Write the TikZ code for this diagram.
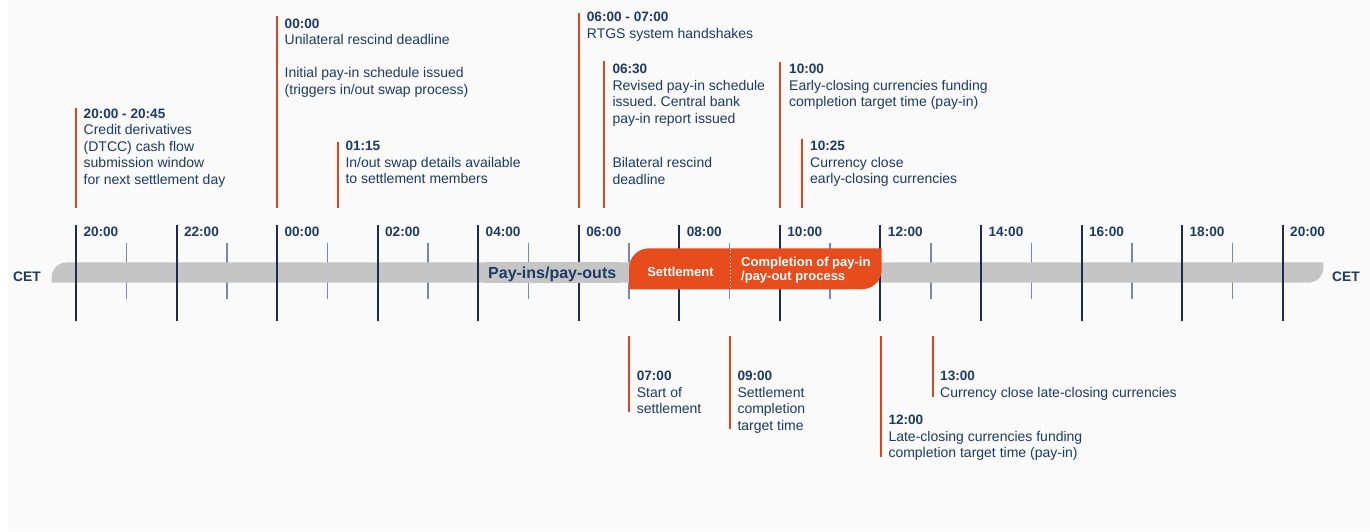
\documentclass[tikz,border=0pt]{standalone}
\usepackage{fontspec}
\setmainfont{Liberation Sans}
\frenchspacing
\definecolor{navytxt}{HTML}{1B3A66}
\definecolor{navytick}{HTML}{1E2B4F}
\definecolor{minortick}{HTML}{7B87AD}
\definecolor{evorange}{HTML}{D9481C}
\definecolor{fillorange}{HTML}{E64C1C}
\definecolor{bargray}{HTML}{C5C5C5}
\definecolor{bgpanel}{HTML}{FAFAFA}
\newcommand{\tm}[1]{{\bfseries\fontsize{13.6}{16.5}\selectfont #1}}
\tikzset{
  evline/.style={draw=evorange, line width=2pt},
  evtext/.style={anchor=north west, inner sep=0pt, align=left, text=navytxt,
    font=\fontsize{14}{16.5}\selectfont},
  majortick/.style={draw=navytick, line width=2pt},
  minortk/.style={draw=minortick, line width=1.5pt},
  hourlbl/.style={anchor=west, inner sep=0pt, text=navytxt,
    font=\bfseries\fontsize{13.6}{16}\selectfont},
  cetlbl/.style={anchor=west, inner sep=0pt, text=navytxt,
    font=\bfseries\fontsize{13.8}{16}\selectfont},
}
\begin{document}
\begin{tikzpicture}[x=1pt,y=-1pt]
\useasboundingbox (0,0) rectangle (1370,531);
\fill[white] (0,0) rectangle (1370,531);
\fill[bgpanel] (8,0) rectangle (1370,531);

% minor ticks (odd hours)
\foreach \k in {0,...,11}
  \draw[minortk] ({76+100.56*\k+50.28},242.7) -- ({76+100.56*\k+50.28},299.3);

% grey time bar
\fill[bargray] (51.7,282.7) -- (51.7,277.3)
  .. controls (51.7,269.02) and (58.42,262.3) .. (66.7,262.3)
  -- (1323.3,262.3) -- (1323.3,267.7)
  .. controls (1323.3,275.98) and (1316.58,282.7) .. (1308.3,282.7) -- cycle;

% major ticks and hour labels
\foreach \k/\lab in {0/20:00,1/22:00,2/00:00,3/02:00,4/04:00,5/06:00,6/08:00,
                     7/10:00,8/12:00,9/14:00,10/16:00,11/18:00,12/20:00} {
  \coordinate (mt\k a) at ({76+100.56*\k},225);
  \coordinate (mt\k b) at ({76+100.56*\k},320.7);
  \draw[majortick] (mt\k a) -- (mt\k b);
  \node[hourlbl] (hl\k) at ({83.3+100.56*\k},232) {\lab};
}

% grey patch behind the bar label (hides the tick under the text)
\fill[bargray] (485,262.3) rectangle (620,282.7);
\node[anchor=base west, inner sep=0pt, text=navytxt, font=\bfseries\fontsize{16}{18}\selectfont]
  (payins) at (488,278.3) {Pay-ins/pay-outs};

% orange settlement block
\fill[fillorange] (629,289.3) -- (629,268.3)
  .. controls (629,257.26) and (637.96,248.3) .. (649,248.3)
  -- (881.7,248.3) -- (881.7,269.3)
  .. controls (881.7,280.34) and (872.74,289.3) .. (861.7,289.3) -- cycle;
\coordinate (dotA) at (730,248.8);
\coordinate (dotB) at (730,289.3);
\draw[white, line width=1pt, dash pattern=on 1pt off 2.5pt] (dotA) -- (dotB);

\node[anchor=base, inner sep=0pt, text=white, font=\bfseries\fontsize{13}{14.3}\selectfont]
  (settle) at (680.5,276) {Settlement};
\node[anchor=north west, inner sep=0pt, align=left, text=white,
  font=\bfseries\fontsize{13}{14.3}\selectfont]
  (complete) at (741,256.4) {Completion of pay-in\\/pay-out process};

\node[cetlbl] (cetL) at (13,277) {CET};
\node[cetlbl] (cetR) at (1332,277) {CET};

% events above the axis
\coordinate (e1a) at (76,108.3);   \coordinate (e1b) at (76,208.3);
\draw[evline] (e1a) -- (e1b);
\node[evtext] (e1) at (83.5,108.4) {\tm{20:00 - 20:45}\\Credit derivatives\\(DTCC) cash flow\\submission window\\for next settlement day};

\coordinate (e2a) at (277,16);     \coordinate (e2b) at (277,208.3);
\draw[evline] (e2a) -- (e2b);
\node[evtext] (e2) at (284.5,18.4) {\tm{00:00}\\Unilateral rescind deadline\\[16.5pt]Initial pay-in schedule issued\\(triggers in/out swap process)};

\coordinate (e3a) at (338,141.7);  \coordinate (e3b) at (338,208.3);
\draw[evline] (e3a) -- (e3b);
\node[evtext] (e3) at (345.3,141.1) {\tm{01:15}\\In/out swap details available\\to settlement members};

\coordinate (e4a) at (579,13.3);   \coordinate (e4b) at (579,208.3);
\draw[evline] (e4a) -- (e4b);
\node[evtext] (e4) at (586.7,11.8) {\tm{06:00 - 07:00}\\RTGS system handshakes};

\coordinate (e5a) at (604,61);     \coordinate (e5b) at (604,208.3);
\draw[evline] (e5a) -- (e5b);
\node[evtext] (e5) at (612.3,64.1) {\tm{06:30}\\Revised pay-in schedule\\issued. Central bank\\pay-in report issued\\[28pt]Bilateral rescind\\deadline};

\coordinate (e6a) at (780,61.7);   \coordinate (e6b) at (780,208.3);
\draw[evline] (e6a) -- (e6b);
\node[evtext] (e6) at (789,64.1) {\tm{10:00}\\Early-closing currencies funding\\completion target time (pay-in)};

\coordinate (e7a) at (801.7,139.3); \coordinate (e7b) at (801.7,208.3);
\draw[evline] (e7a) -- (e7b);
\node[evtext] (e7) at (810,141.1) {\tm{10:25}\\Currency close\\early-closing currencies};

% events below the axis
\coordinate (b1a) at (628.5,336);  \coordinate (b1b) at (628.5,412.3);
\draw[evline] (b1a) -- (b1b);
\node[evtext] (b1) at (636.6,371.1) {\tm{07:00}\\Start of\\settlement};

\coordinate (b2a) at (730,336);    \coordinate (b2b) at (730,429.3);
\draw[evline] (b2a) -- (b2b);
\node[evtext] (b2) at (737.3,371.1) {\tm{09:00}\\Settlement\\completion\\target time};

\coordinate (b3a) at (881,336);    \coordinate (b3b) at (881,457.3);
\draw[evline] (b3a) -- (b3b);
\node[evtext] (b3) at (888.3,415.1) {\tm{12:00}\\Late-closing currencies funding\\completion target time (pay-in)};

\coordinate (b4a) at (932.7,336);  \coordinate (b4b) at (932.7,396.7);
\draw[evline] (b4a) -- (b4b);
\node[evtext] (b4) at (940,371.1) {\tm{13:00}\\Currency close late-closing currencies};
\end{tikzpicture}
\end{document}
